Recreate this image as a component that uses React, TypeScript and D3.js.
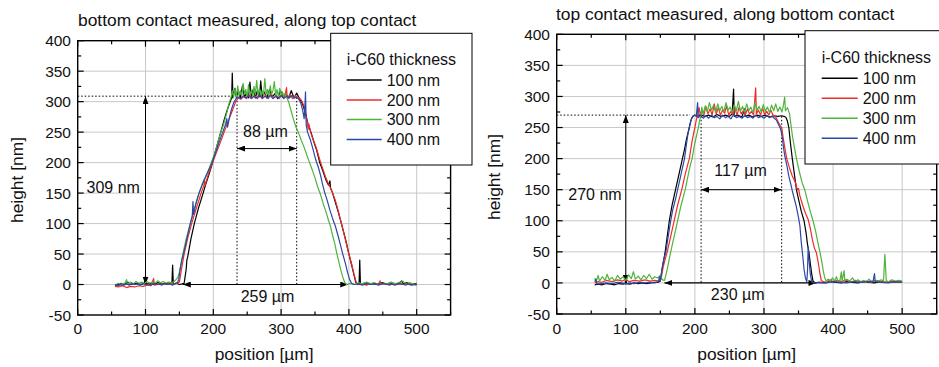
import React from 'react';
import * as d3 from 'd3';

type Pt = [number, number];

// ---------- data: left panel (bottom contact measured, along top contact) ----------
const L100: Pt[] = [[55,-2],[60,0],[65,-1],[70,1],[74,4],[76,0],[82,1],[88,2],[94,0],[98,2],[100,14],[101,1],[106,2],[112,0],[118,3],[124,1],[130,2],[135,1],[139,3],[140,32],[141,1],[146,2],[150,0],[154,1],[157,2],[160,25],[161,40],[162,44],[163,50],[167,75],[172,100],[178,125],[185,150],[189,165],[194,182],[199,200],[203,218],[207,234],[211,250],[216,270],[221,288],[225,300],[227,306],[228,347],[229,306],[232,322],[234,307],[237,318],[240,305],[243,326],[246,307],[249,314],[252,306],[254,332],[256,308],[259,320],[262,306],[265,318],[268,308],[270,334],[272,307],[275,316],[279,306],[283,320],[287,308],[291,313],[295,305],[299,318],[303,307],[307,313],[311,306],[315,318],[319,306],[323,314],[327,305],[330,300],[333,292],[336,280],[340,262],[344,250],[348,235],[352,222],[357,200],[362,185],[366,172],[370,163],[372,170],[373,158],[376,150],[380,135],[384,120],[389,100],[393,83],[396,70],[400,50],[404,32],[407,18],[410,4],[413,0],[415,1],[416,40],[417,1],[422,2],[428,0],[435,2],[442,1],[450,3],[458,0],[465,2],[472,1],[478,6],[480,1],[486,3],[492,0],[500,2]];

const L200: Pt[] = [[55,-3],[60,-4],[66,-2],[72,-5],[78,-3],[84,-4],[90,-2],[96,-3],[102,-1],[108,-2],[112,10],[113,-1],[118,0],[124,1],[130,0],[136,2],[142,1],[147,2],[150,4],[153,25],[157,50],[162,75],[168,100],[175,125],[182,150],[186,162],[187,172],[188,163],[193,182],[199,200],[204,215],[210,232],[216,250],[222,268],[228,285],[233,300],[237,306],[241,304],[245,309],[249,305],[253,311],[257,306],[261,310],[265,305],[269,312],[273,306],[277,310],[281,305],[285,313],[289,306],[293,309],[297,305],[301,311],[305,307],[308,323],[309,306],[313,311],[317,305],[321,310],[325,307],[328,305],[331,300],[334,292],[337,278],[340,255],[341,263],[344,248],[348,236],[352,224],[357,205],[362,188],[366,175],[370,165],[373,158],[376,150],[380,138],[384,122],[389,100],[393,82],[396,68],[400,50],[404,34],[408,15],[411,3],[414,0],[420,1],[426,-1],[432,2],[438,0],[444,1],[446,6],[447,0],[454,1],[460,-1],[466,2],[472,0],[478,1],[484,-1],[490,2],[496,0],[500,-1]];

const L300: Pt[] = [[55,-1],[60,2],[65,0],[70,3],[72,8],[73,1],[78,4],[82,1],[86,5],[90,2],[94,4],[98,1],[102,5],[106,2],[110,4],[114,2],[118,6],[122,3],[126,5],[130,2],[134,4],[138,3],[142,5],[145,8],[148,12],[150,20],[153,35],[155,50],[160,75],[166,100],[172,125],[179,150],[185,168],[191,182],[197,200],[202,215],[206,230],[211,250],[215,262],[219,278],[222,292],[224,300],[226,306],[228,318],[230,307],[232,322],[234,308],[236,326],[238,310],[240,318],[242,309],[244,330],[246,312],[248,320],[250,308],[252,328],[254,311],[256,318],[258,309],[260,325],[262,312],[264,335],[266,310],[268,322],[270,309],[272,318],[274,311],[276,338],[278,312],[280,320],[282,308],[284,326],[286,312],[288,318],[290,333],[292,310],[294,320],[296,308],[298,322],[300,311],[302,316],[304,309],[306,314],[308,308],[311,300],[314,288],[318,272],[322,258],[326,248],[330,236],[334,225],[338,212],[342,200],[346,188],[350,175],[354,160],[358,148],[362,133],[366,120],[370,105],[373,95],[376,80],[379,68],[382,52],[385,38],[388,24],[391,12],[394,3],[397,0],[402,2],[408,0],[414,3],[420,1],[426,4],[432,1],[438,3],[444,0],[450,2],[456,1],[462,4],[468,1],[474,3],[480,5],[484,1],[490,3],[496,0],[500,1]];

const L400: Pt[] = [[55,0],[60,-2],[64,2],[68,-1],[72,1],[76,-1],[80,2],[84,0],[88,1],[92,-1],[96,2],[100,0],[104,1],[108,-1],[112,2],[116,0],[120,1],[124,-1],[128,2],[132,0],[136,1],[140,-1],[144,2],[147,3],[149,8],[151,25],[153,38],[156,50],[161,75],[166,100],[169,112],[170,136],[171,115],[175,135],[179,150],[184,165],[190,180],[195,192],[198,200],[203,215],[208,232],[214,250],[218,262],[220,272],[221,258],[224,275],[227,288],[230,298],[233,304],[236,308],[240,305],[244,309],[248,306],[252,310],[256,305],[260,309],[264,306],[268,311],[272,305],[276,309],[280,306],[284,310],[288,305],[292,309],[296,306],[300,310],[304,305],[308,309],[312,306],[316,310],[320,306],[323,307],[326,304],[329,298],[332,285],[334,272],[335,290],[336,316],[337,262],[339,250],[343,238],[347,222],[351,205],[355,192],[358,180],[361,165],[364,152],[368,138],[372,122],[376,108],[380,96],[384,80],[388,63],[391,50],[395,34],[398,20],[401,8],[404,2],[408,0],[414,1],[420,-1],[426,2],[432,0],[438,1],[444,-1],[450,2],[456,0],[462,1],[468,-1],[474,2],[480,0],[486,1],[492,-1],[500,0]];

// ---------- data: right panel (top contact measured, along bottom contact) ----------
const R100: Pt[] = [[55,-3],[60,-2],[66,-3],[72,-1],[78,-2],[84,-3],[90,-1],[96,-2],[99,-1],[100,8],[101,-1],[106,-2],[112,0],[118,-1],[124,0],[130,-1],[136,0],[142,1],[147,1],[150,3],[153,25],[157,50],[160,75],[163,100],[167,125],[172,150],[177,175],[182,200],[185,215],[188,232],[191,246],[193,256],[195,264],[197,268],[200,270],[204,267],[208,271],[214,268],[220,270],[226,267],[232,271],[238,268],[244,270],[250,268],[254,272],[256,312],[257,268],[262,270],[268,267],[272,280],[273,268],[278,270],[284,267],[290,270],[296,268],[302,270],[308,267],[314,269],[320,268],[325,269],[329,268],[332,266],[334,260],[336,250],[338,228],[341,200],[344,175],[347,150],[350,135],[354,115],[358,100],[361,80],[363,62],[365,50],[367,32],[369,15],[371,3],[374,0],[380,1],[388,0],[396,2],[404,1],[412,0],[420,2],[428,1],[436,0],[444,2],[452,1],[460,0],[468,2],[476,1],[484,2],[492,1],[500,2]];

const R200: Pt[] = [[55,0],[60,2],[65,1],[72,4],[80,2],[88,5],[95,3],[100,6],[105,2],[112,4],[120,3],[128,5],[135,3],[142,4],[148,3],[151,6],[154,25],[157,38],[160,50],[165,75],[170,100],[175,125],[181,150],[186,175],[190,192],[192,200],[194,215],[196,228],[198,240],[200,250],[202,262],[204,270],[206,282],[208,270],[210,278],[213,270],[216,284],[219,272],[222,280],[225,270],[228,288],[231,272],[234,282],[237,270],[240,278],[243,273],[246,285],[249,270],[252,276],[255,271],[258,280],[261,270],[264,283],[267,272],[270,277],[273,270],[276,280],[279,272],[282,276],[285,270],[288,314],[289,272],[292,278],[295,270],[298,281],[301,271],[304,276],[307,270],[310,278],[313,270],[316,268],[318,265],[321,258],[324,252],[326,248],[328,232],[331,212],[333,200],[337,185],[341,172],[344,165],[346,160],[348,150],[350,152],[352,140],[356,125],[360,112],[364,102],[367,88],[370,70],[373,56],[376,48],[379,30],[381,15],[383,4],[386,2],[390,1],[396,5],[400,2],[406,4],[412,2],[418,5],[425,1],[432,4],[440,2],[448,3],[455,1],[462,4],[470,2],[478,1],[485,3],[492,1],[500,2]];

const R300: Pt[] = [[55,8],[57,2],[60,12],[62,3],[66,10],[70,4],[73,14],[76,5],[80,9],[84,3],[88,12],[92,6],[96,10],[100,4],[104,13],[108,7],[111,18],[114,6],[118,11],[122,5],[126,12],[130,7],[134,14],[138,6],[142,10],[146,8],[150,12],[153,5],[156,4],[158,12],[161,28],[165,50],[170,75],[175,100],[180,125],[186,150],[190,172],[193,188],[196,200],[199,220],[202,235],[205,250],[207,262],[209,270],[210,283],[212,272],[215,285],[218,275],[221,290],[224,278],[227,286],[230,274],[233,288],[236,277],[239,284],[242,275],[245,290],[248,278],[251,283],[254,274],[257,287],[260,277],[263,292],[266,276],[269,284],[272,275],[275,288],[278,277],[281,283],[284,274],[287,290],[290,278],[293,284],[296,275],[299,287],[302,276],[305,283],[308,274],[311,286],[314,277],[317,288],[320,276],[323,283],[326,275],[328,285],[330,299],[331,277],[334,282],[337,272],[339,255],[341,238],[344,218],[347,200],[351,180],[355,162],[359,150],[363,132],[367,115],[371,100],[375,82],[378,65],[381,50],[384,32],[386,18],[388,8],[390,3],[393,6],[396,2],[399,8],[402,3],[405,10],[407,2],[410,4],[412,18],[413,3],[416,20],[417,4],[420,6],[424,3],[428,8],[432,2],[436,5],[440,2],[444,4],[448,1],[452,6],[456,2],[460,4],[465,3],[470,5],[473,3],[475,46],[477,4],[480,2],[485,5],[490,3],[495,4],[500,3]];

const R400: Pt[] = [[55,2],[57,6],[58,-2],[65,-1],[72,0],[80,-1],[88,1],[95,0],[100,-2],[105,0],[112,-1],[120,1],[128,0],[135,1],[142,0],[147,2],[149,10],[150,3],[152,20],[155,38],[158,50],[161,72],[165,100],[168,118],[172,135],[175,150],[179,170],[182,185],[185,200],[188,225],[190,240],[192,250],[194,260],[196,266],[199,270],[202,268],[204,290],[205,266],[208,270],[212,265],[216,269],[220,265],[224,270],[228,266],[232,268],[236,264],[240,270],[244,266],[248,268],[252,264],[256,271],[260,266],[264,268],[268,265],[272,269],[276,266],[280,268],[284,265],[288,270],[292,266],[296,268],[300,265],[304,269],[308,266],[312,268],[315,265],[318,262],[321,255],[324,248],[326,238],[328,220],[330,205],[333,190],[336,172],[339,158],[341,148],[344,135],[347,122],[350,105],[352,92],[354,65],[356,45],[358,22],[360,8],[362,2],[363,20],[364,58],[365,40],[367,15],[369,2],[372,0],[380,1],[390,0],[400,2],[410,1],[420,0],[430,2],[440,1],[450,2],[458,3],[460,15],[461,2],[470,1],[480,0],[490,2],[500,1]];

// ---------- labels / ticks ----------
const xTickValues = [0, 100, 200, 300, 400, 500];
const xMinorValues = [50, 150, 250, 350, 450, 550];
const yTickValues = [-50, 0, 50, 100, 150, 200, 250, 300, 350, 400];
const yMinorValues = [-25, 25, 75, 125, 175, 225, 275, 325, 375];
const seriesLabels = ['100 nm', '200 nm', '300 nm', '400 nm'];
const legendTitle = 'i-C60 thickness';
const xTitle = 'position [µm]';
const yTitle = 'height [nm]';
const leftTitle = 'bottom contact measured, along top contact';
const rightTitle = 'top contact measured, along bottom contact';

const leftNotes = { height: 309, heightLabel: '309 nm', topX: [235, 323], topY: 223, topLabel: '88 µm', botX: [155, 399], botLabel: '259 µm', plateauEnd: 229 };
const rightNotes = { height: 270, heightLabel: '270 nm', topX: [209, 325.6], topY: 150, topLabel: '117 µm', botX: [156, 376], botLabel: '230 µm', plateauEnd: 193 };

const COLORS = ['#000000', '#f12a2a', '#4db53c', '#2b48a6'];
const FONT = '"Liberation Sans", Arial, Helvetica, sans-serif';

type PanelProps = {
  id: string;
  series: Pt[][];
  title: string;
  titlePos: [number, number];
  plot: { l: number; r: number; t: number; b: number };
  yLabelX: number;
  yTitleX: number;
  yTitleY: number;
  legend: { x: number; y: number; w: number; h: number; tx: number; ty: number; rows: number[]; lx2: number };
  notes: typeof leftNotes;
  noteText: { h: [number, number]; top: [number, number]; bot: [number, number] };
};

function Panel(p: PanelProps) {
  const { plot } = p;
  const x = d3.scaleLinear().domain([0, 550]).range([plot.l, plot.r]);
  const y = d3.scaleLinear().domain([-50, 400]).range([plot.b, plot.t]);
  const line = d3.line<Pt>().x(d => x(d[0])).y(d => y(d[1]));
  const n = p.notes;
  const mk = `url(#arrow-${p.id})`;
  const fsTick = 15.5;
  const fsNote = 16;
  const fsTitle = 17.4;
  return (
    <g fontFamily={FONT}>
      <defs>
        <marker id={`arrow-${p.id}`} viewBox="0 0 8 6" refX="8" refY="3" markerWidth="8" markerHeight="6" markerUnits="userSpaceOnUse" orient="auto-start-reverse">
          <path d="M0,0 L8,3 L0,6 Z" fill="#000" />
        </marker>
      </defs>
      {/* grid */}
      {xTickValues.filter(v => v > 0).map(v => (
        <line key={'gx' + v} x1={x(v)} x2={x(v)} y1={plot.t} y2={plot.b} stroke="#c8c8c8" strokeWidth={1} />
      ))}
      {yTickValues.filter(v => v > -50 && v < 400).map(v => (
        <line key={'gy' + v} x1={plot.l} x2={plot.r} y1={y(v)} y2={y(v)} stroke="#c8c8c8" strokeWidth={1} />
      ))}
      {/* annotations below data */}
      <line x1={plot.l} x2={x(n.plateauEnd)} y1={y(n.height)} y2={y(n.height)} stroke="#000" strokeWidth={1} strokeDasharray="1.5,2" />
      {n.topX.map((v, i) => (
        <line key={'dv' + i} x1={x(v)} x2={x(v)} y1={y(n.height - 2)} y2={y(0)} stroke="#000" strokeWidth={1} strokeDasharray="1.5,2" />
      ))}
      <line x1={x(100)} x2={x(100)} y1={y(0)} y2={y(n.height)} stroke="#000" strokeWidth={1} markerStart={mk} markerEnd={mk} />
      <line x1={x(n.topX[0])} x2={x(n.topX[1])} y1={y(n.topY)} y2={y(n.topY)} stroke="#000" strokeWidth={1} markerStart={mk} markerEnd={mk} />
      <line x1={x(n.botX[0])} x2={x(n.botX[1])} y1={y(0)} y2={y(0)} stroke="#000" strokeWidth={1.2} markerStart={mk} markerEnd={mk} />
      {/* data */}
      {p.series.map((s, i) => (
        <path key={'s' + i} d={line(s) || ''} fill="none" stroke={COLORS[i]} strokeWidth={1.2} strokeLinejoin="round" />
      ))}
      {/* note text */}
      <text x={x(p.noteText.h[0])} y={y(p.noteText.h[1])} fontSize={fsNote} fill="#111">{n.heightLabel}</text>
      <text x={x(p.noteText.top[0])} y={y(p.noteText.top[1])} fontSize={fsNote} fill="#111" textAnchor="middle">{n.topLabel}</text>
      <text x={x(p.noteText.bot[0])} y={y(p.noteText.bot[1])} fontSize={fsNote} fill="#111" textAnchor="middle">{n.botLabel}</text>
      {/* frame */}
      <rect x={plot.l} y={plot.t} width={plot.r - plot.l} height={plot.b - plot.t} fill="none" stroke="#000" strokeWidth={1.4} />
      {/* ticks */}
      {xTickValues.map(v => (
        <g key={'tx' + v}>
          <line x1={x(v)} x2={x(v)} y1={plot.b} y2={plot.b - 6} stroke="#000" strokeWidth={1.2} />
          <line x1={x(v)} x2={x(v)} y1={plot.t} y2={plot.t + 6} stroke="#000" strokeWidth={1.2} />
          <text x={x(v)} y={334} fontSize={fsTick} textAnchor="middle" fill="#111">{v}</text>
        </g>
      ))}
      {xMinorValues.map(v => (
        <g key={'mx' + v}>
          <line x1={x(v)} x2={x(v)} y1={plot.b} y2={plot.b - 3.5} stroke="#000" strokeWidth={1.2} />
          <line x1={x(v)} x2={x(v)} y1={plot.t} y2={plot.t + 3.5} stroke="#000" strokeWidth={1.2} />
        </g>
      ))}
      {yTickValues.map(v => (
        <g key={'ty' + v}>
          <line x1={plot.l} x2={plot.l + 6} y1={y(v)} y2={y(v)} stroke="#000" strokeWidth={1.2} />
          <line x1={plot.r} x2={plot.r - 6} y1={y(v)} y2={y(v)} stroke="#000" strokeWidth={1.2} />
          <text x={p.yLabelX} y={y(v)} dy="0.36em" fontSize={fsTick} textAnchor="end" fill="#111">{v}</text>
        </g>
      ))}
      {yMinorValues.map(v => (
        <g key={'my' + v}>
          <line x1={plot.l} x2={plot.l + 3.5} y1={y(v)} y2={y(v)} stroke="#000" strokeWidth={1.2} />
          <line x1={plot.r} x2={plot.r - 3.5} y1={y(v)} y2={y(v)} stroke="#000" strokeWidth={1.2} />
        </g>
      ))}
      {/* titles */}
      <text x={p.titlePos[0]} y={p.titlePos[1]} fontSize={fsTitle} fill="#111">{p.title}</text>
      <text x={x(275)} y={360} fontSize={fsTitle} textAnchor="middle" fill="#111">{xTitle}</text>
      <text transform={`translate(${p.yTitleX},${p.yTitleY}) rotate(-90)`} fontSize={fsTitle} textAnchor="middle" fill="#111">{yTitle}</text>
      {/* legend */}
      <rect x={p.legend.x} y={p.legend.y} width={p.legend.w} height={p.legend.h} fill="#fff" stroke="#000" strokeWidth={1} />
      <text x={p.legend.tx} y={p.legend.ty} fontSize={fsNote} fill="#111">{legendTitle}</text>
      {seriesLabels.map((lab, i) => (
        <g key={'lg' + i}>
          <line x1={p.legend.tx} x2={p.legend.lx2} y1={p.legend.rows[i]} y2={p.legend.rows[i]} stroke={COLORS[i]} strokeWidth={1.4} />
          <text x={p.legend.lx2 + 5} y={p.legend.rows[i]} dy="0.36em" fontSize={fsNote} fill="#111">{lab}</text>
        </g>
      ))}
    </g>
  );
}

export default function App() {
  return (
    <svg width={939} height={367} style={{ position: 'absolute', left: 0, top: 0, background: '#fff' }}>
      <rect x={0} y={0} width={939} height={367} fill="#fff" />
      <Panel
        id="L"
        series={[L100, L200, L300, L400]}
        title={leftTitle}
        titlePos={[78, 26]}
        plot={{ l: 77.7, r: 450.6, t: 40.7, b: 315 }}
        yLabelX={71}
        yTitleX={23}
        yTitleY={180}
        legend={{ x: 330.7, y: 33.3, w: 141.3, h: 131.7, tx: 346.7, ty: 65, rows: [80, 100, 119.5, 139.5], lx2: 381.7 }}
        notes={leftNotes}
        noteText={{ h: [13, 150], top: [277, 242], bot: [280, -28] }}
      />
      <Panel
        id="R"
        series={[R100, R200, R300, R400]}
        title={rightTitle}
        titlePos={[556, 19.5]}
        plot={{ l: 556.7, r: 936.7, t: 34.3, b: 314 }}
        yLabelX={550}
        yTitleX={500}
        yTitleY={177}
        legend={{ x: 805, y: 30.7, w: 140, h: 133.3, tx: 821.7, ty: 63.3, rows: [78.3, 98.3, 118.3, 138.3], lx2: 857.7 }}
        notes={rightNotes}
        noteText={{ h: [16.8, 133], top: [266, 171.6], bot: [262, -27.8] }}
      />
    </svg>
  );
}
